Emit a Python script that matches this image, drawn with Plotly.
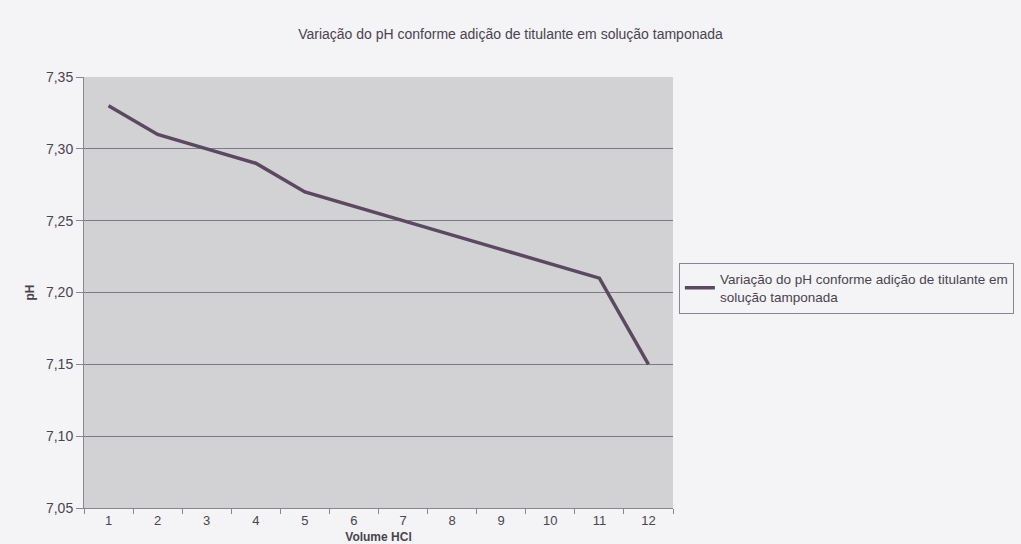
import plotly.graph_objects as go

volume = ["1", "2", "3", "4", "5", "6", "7", "8", "9", "10", "11", "12"]
ph = [7.33, 7.31, 7.30, 7.29, 7.27, 7.26, 7.25, 7.24, 7.23, 7.22, 7.21, 7.15]
y_ticks = [7.05, 7.10, 7.15, 7.20, 7.25, 7.30, 7.35]
y_labels = ["7,05", "7,10", "7,15", "7,20", "7,25", "7,30", "7,35"]
series_name = "Variação do pH conforme adição de titulante em<br>solução tamponada"
title = "Variação do pH conforme adição de titulante em solução tamponada"

fig = go.Figure()
fig.add_trace(go.Scatter(
    x=volume, y=ph, mode="lines", name=series_name,
    line=dict(color="#5b4a5f", width=3.5),
))

fig.update_layout(
    width=1021, height=544,
    margin=dict(l=84, r=348, t=77, b=36, autoexpand=False),
    paper_bgcolor="#f4f3f5",
    plot_bgcolor="#d2d1d4",
    font=dict(family="Liberation Sans, Arial", color="#4a4450", size=12),
    title=dict(text=title, x=0.5, xanchor="center", xref="container", y=0.9375, yref="container",
               yanchor="middle", font=dict(size=14, color="#4a4450")),
    showlegend=True,
    legend=dict(x=1.01, y=0.51, xanchor="left", yanchor="middle",
                bordercolor="#8a8590", borderwidth=1, bgcolor="#f4f3f5",
                font=dict(size=13.5, color="#4a4450"), itemwidth=30, tracegroupgap=0),
    xaxis=dict(type="category", range=[-0.5, 11.5], showgrid=False, ticks="outside",
               tickson="boundaries", ticklen=5, tickcolor="#8a8590", showline=True,
               linecolor="#8a8590", ticklabelstandoff=0,
               title=dict(text="<b>Volume HCl</b>", font=dict(size=12), standoff=12),
               tickfont=dict(size=13), zeroline=False),
    yaxis=dict(range=[7.05, 7.35], tickvals=y_ticks, ticktext=y_labels,
               showgrid=True, gridcolor="#7e7a84", gridwidth=1,
               ticks="outside", ticklen=7, tickcolor="#8a8590",
               showline=True, linecolor="#8a8590", zeroline=False,
               title=dict(text="<b>pH</b>", font=dict(size=12), standoff=8),
               tickfont=dict(size=14)),
)

fig.write_html("out.html", config={"displayModeBar": False},
               post_script="document.body.style.margin='0';document.body.style.overflow='hidden';")
